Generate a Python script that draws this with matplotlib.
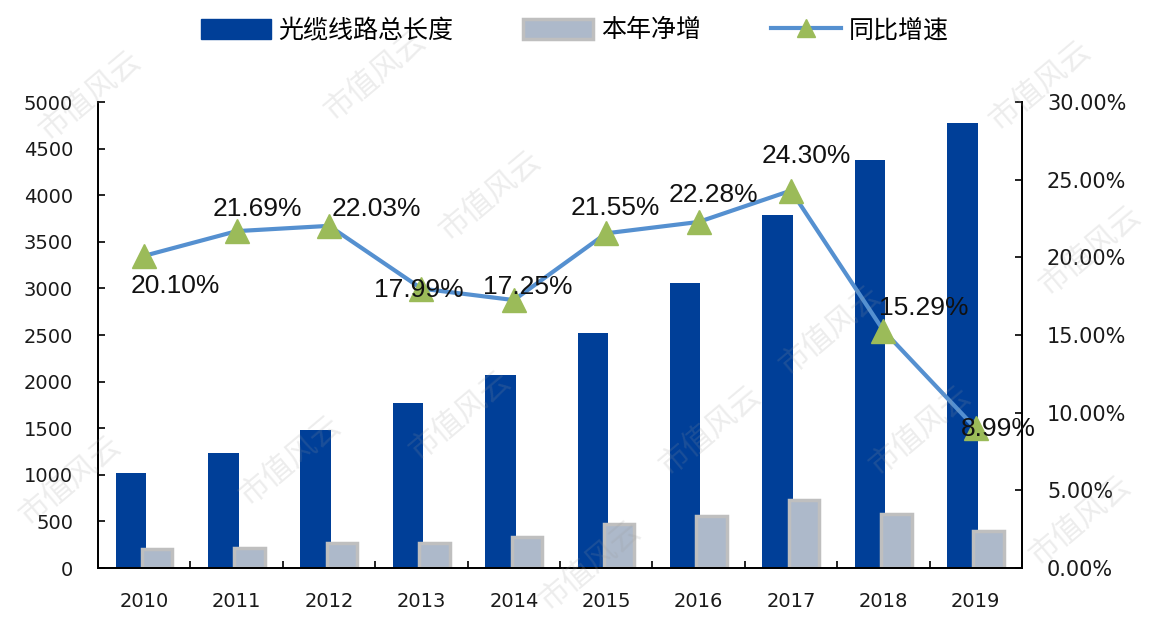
import numpy as np
import matplotlib.pyplot as plt
from matplotlib.lines import Line2D
from matplotlib.patches import Patch

plt.rcParams['font.family'] = ['Noto Sans CJK SC', 'DejaVu Sans']

# 数据
years = ['2010', '2011', '2012', '2013', '2014', '2015', '2016', '2017', '2018', '2019']
total_len = [1015, 1235, 1480, 1770, 2070, 2520, 3055, 3790, 4375, 4775]
net_add = [200, 220, 270, 270, 330, 470, 560, 730, 580, 400]
growth = [20.10, 21.69, 22.03, 17.99, 17.25, 21.55, 22.28, 24.30, 15.29, 8.99]
growth_labels = ['20.10%', '21.69%', '22.03%', '17.99%', '17.25%',
                 '21.55%', '22.28%', '24.30%', '15.29%', '8.99%']
# 标签相对点的偏移 (像素)
label_offsets = [(31, -30), (21, 22), (47, 17), (-3, -1), (14, 13),
                 (9, 25), (15, 27), (15, 35), (40, 23), (23, -1)]

blue = '#003f98'
gray_fill = '#adb9ca'
gray_edge = '#bfbfbf'
line_c = '#5590d0'
tri_c = '#9bbb59'

fig = plt.figure(figsize=(11.54, 6.3), dpi=100)
ax = fig.add_axes([0.085, 0.0984, 0.8006, 0.7396])
ax2 = ax.twinx()

x = np.arange(len(years))
w = 0.33
ax.bar(x - 0.145, total_len, w, color=blue, zorder=2)
ax.bar(x + 0.14, net_add, w, color=gray_fill, edgecolor=gray_edge,
       linewidth=2.5, zorder=2)

ax.set_xlim(-0.5, len(years) - 0.5)
ax.set_ylim(0, 5000)
ax.set_yticks(np.arange(0, 5001, 500))
ax.set_xticks(x)
ax.set_xticklabels(years)
ax.set_xticks(np.arange(-0.5, len(years), 1), minor=True)
ax.tick_params(axis='x', which='major', length=0, pad=17, labelsize=14)
ax.tick_params(axis='x', which='minor', direction='in', length=5, width=1.2)
ax.tick_params(axis='y', direction='in', length=5, width=1.2, labelsize=14,
               pad=18)
for lab in ax.get_xticklabels() + ax.get_yticklabels():
    lab.set_family('DejaVu Sans')
    lab.set_color('#1a1a1a')

ax2.plot(x, growth, color=line_c, linewidth=3, marker='^', markersize=17,
         markerfacecolor=tri_c, markeredgecolor=tri_c, zorder=3)
ax2.set_ylim(0, 30)
ax2.set_yticks(np.arange(0, 30.1, 5))
ax2.set_yticklabels(['%.2f%%' % v for v in np.arange(0, 30.1, 5)])
ax2.tick_params(axis='y', direction='in', length=5, width=1.2,
                labelsize=15, pad=18)
for lab in ax2.get_yticklabels():
    lab.set_family('DejaVu Sans')
    lab.set_color('#1a1a1a')

for i, (v, t) in enumerate(zip(growth, growth_labels)):
    dx, dy = label_offsets[i]
    ax2.annotate(t, (x[i], v), xytext=(dx, dy), textcoords='offset pixels',
                 ha='center', va='center', fontsize=19,
                 family='Liberation Sans', color='#111111', zorder=4)

for a in (ax, ax2):
    a.spines['top'].set_visible(False)
    for s in ('left', 'right', 'bottom'):
        a.spines[s].set_linewidth(1.3)
ax.set_zorder(ax2.get_zorder() - 1)
ax.patch.set_visible(False)

# 图例
handles = [Patch(facecolor=blue, edgecolor=blue),
           Patch(facecolor=gray_fill, edgecolor=gray_edge, linewidth=2.5),
           Line2D([0], [0], color=line_c, linewidth=3, marker='^',
                  markersize=13, markerfacecolor=tri_c, markeredgecolor=tri_c)]
fig.legend(handles, ['光缆线路总长度', '本年净增', '同比增速'],
           loc='center', bbox_to_anchor=(0.498, 0.952), ncol=3, frameon=False,
           fontsize=18, handlelength=2.8, handleheight=0.85,
           columnspacing=2.8, handletextpad=0.3)

# 水印
for (px, py) in [(90, 95), (375, 75), (490, 195), (1040, 85), (290, 460),
                 (460, 415), (710, 430), (920, 430), (830, 330), (70, 480),
                 (590, 565), (1090, 250), (1080, 520)]:
    fig.text(px / 1154, 1 - py / 630, '市值风云', fontsize=22, color='#999999',
             alpha=0.18, rotation=40, ha='center', va='center', zorder=10)

fig.savefig('out.png', dpi=100)
